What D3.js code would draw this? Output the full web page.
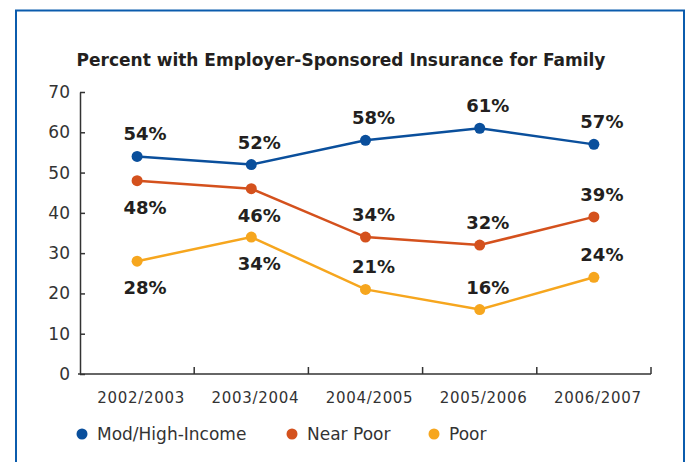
<!DOCTYPE html>
<html>
<head>
<meta charset="utf-8">
<script src="https://cdn.jsdelivr.net/npm/d3@7"></script>
<style>
  html, body { margin: 0; padding: 0; background: #fff; }
  svg { display: block; }
</style>
</head>
<body>
<svg id="chart" width="689" height="462"></svg>
<script>
// Survey years and percentages by income group
const years = ["2002/2003", "2003/2004", "2004/2005", "2005/2006", "2006/2007"];
const modHigh = [54, 52, 58, 61, 57];
const nearPoor = [48, 46, 34, 32, 39];
const poor = [28, 34, 21, 16, 24];
const yTicks = [0, 10, 20, 30, 40, 50, 60, 70];
const seriesNames = ["Mod/High-Income", "Near Poor", "Poor"];
const seriesColors = ["#0a4f9c", "#d4511d", "#f6a61e"];
// label placement: +1 above point, -1 below point
const modHighPos = [1, 1, 1, 1, 1];
const nearPoorPos = [-1, -1, 1, 1, 1];
const poorPos = [-1, -1, 1, 1, 1];

const series = [
  { name: seriesNames[0], values: modHigh, pos: modHighPos, color: seriesColors[0] },
  { name: seriesNames[1], values: nearPoor, pos: nearPoorPos, color: seriesColors[1] },
  { name: seriesNames[2], values: poor, pos: poorPos, color: seriesColors[2] }
];

const svg = d3.select("#chart");
const font = "'DejaVu Sans', Verdana, sans-serif";

// frame (open at the bottom)
svg.append("path")
  .attr("d", "M16,462 L16,10.5 L684,10.5 L684,462")
  .attr("fill", "none")
  .attr("stroke", "#0b5cad")
  .attr("stroke-width", 2);

// title
svg.append("text")
  .attr("x", 341).attr("y", 66)
  .attr("text-anchor", "middle")
  .attr("font-family", font)
  .attr("font-weight", "bold")
  .attr("font-size", 17)
  .attr("fill", "#231f20")
  .text("Percent with Employer-Sponsored Insurance for Family");

const plotLeft = 80, plotRight = 651, plotTop = 92, plotBottom = 374;

const x = d3.scaleBand().domain(years).range([plotLeft, plotRight]).padding(0);
const y = d3.scaleLinear().domain([0, 70]).range([plotBottom, plotTop]);

// y axis
const yAxis = svg.append("g")
  .attr("transform", `translate(${plotLeft},0)`)
  .call(d3.axisLeft(y).tickValues(yTicks).tickSizeInner(-5).tickSizeOuter(0).tickPadding(10));
yAxis.select(".domain").attr("stroke", "#333").attr("stroke-width", 1.5);
yAxis.selectAll(".tick line").attr("stroke", "#333").attr("stroke-width", 1.5);
yAxis.selectAll(".tick text")
  .attr("font-family", font).attr("font-size", 17).attr("fill", "#333");

// x axis
const xAxis = svg.append("g")
  .attr("transform", `translate(0,${plotBottom})`)
  .call(d3.axisBottom(x).tickSize(0).tickPadding(18));
xAxis.select(".domain").attr("stroke", "#333").attr("stroke-width", 1.5)
  .attr("d", `M${plotLeft - 2},0H${plotRight}`);
xAxis.selectAll(".tick text")
  .attr("font-family", font).attr("font-size", 15)
  .attr("letter-spacing", 0.7).attr("dx", 4).attr("fill", "#333");
// band-edge ticks pointing inward
svg.append("g").selectAll("line")
  .data(years)
  .join("line")
  .attr("x1", d => x(d) + x.bandwidth())
  .attr("x2", d => x(d) + x.bandwidth())
  .attr("y1", plotBottom).attr("y2", plotBottom - 7)
  .attr("stroke", "#333").attr("stroke-width", 1.5);

const cx = d => x(d) + x.bandwidth() / 2;
const line = d3.line().x((d, i) => cx(years[i])).y(d => y(d));

series.forEach(s => {
  const g = svg.append("g");
  g.append("path")
    .attr("d", line(s.values))
    .attr("fill", "none")
    .attr("stroke", s.color)
    .attr("stroke-width", 2.5);
  g.selectAll("circle")
    .data(s.values)
    .join("circle")
    .attr("cx", (d, i) => cx(years[i]))
    .attr("cy", d => y(d))
    .attr("r", 5.5)
    .attr("fill", s.color);
  g.selectAll("text")
    .data(s.values)
    .join("text")
    .attr("x", (d, i) => cx(years[i]) + 8)
    .attr("y", (d, i) => s.pos[i] > 0 ? y(d) - 16 : y(d) + 33)
    .attr("text-anchor", "middle")
    .attr("font-family", font)
    .attr("font-weight", "bold")
    .attr("font-size", 18)
    .attr("fill", "#231f20")
    .text(d => d + "%");
});

// legend
const legendX = [82, 292, 434];
const legend = svg.append("g");
series.forEach((s, i) => {
  legend.append("circle")
    .attr("cx", legendX[i]).attr("cy", 434).attr("r", 5.5).attr("fill", s.color);
  legend.append("text")
    .attr("x", legendX[i] + 15).attr("y", 440)
    .attr("font-family", font).attr("font-size", 17).attr("fill", "#333")
    .text(s.name);
});
</script>
</body>
</html>
